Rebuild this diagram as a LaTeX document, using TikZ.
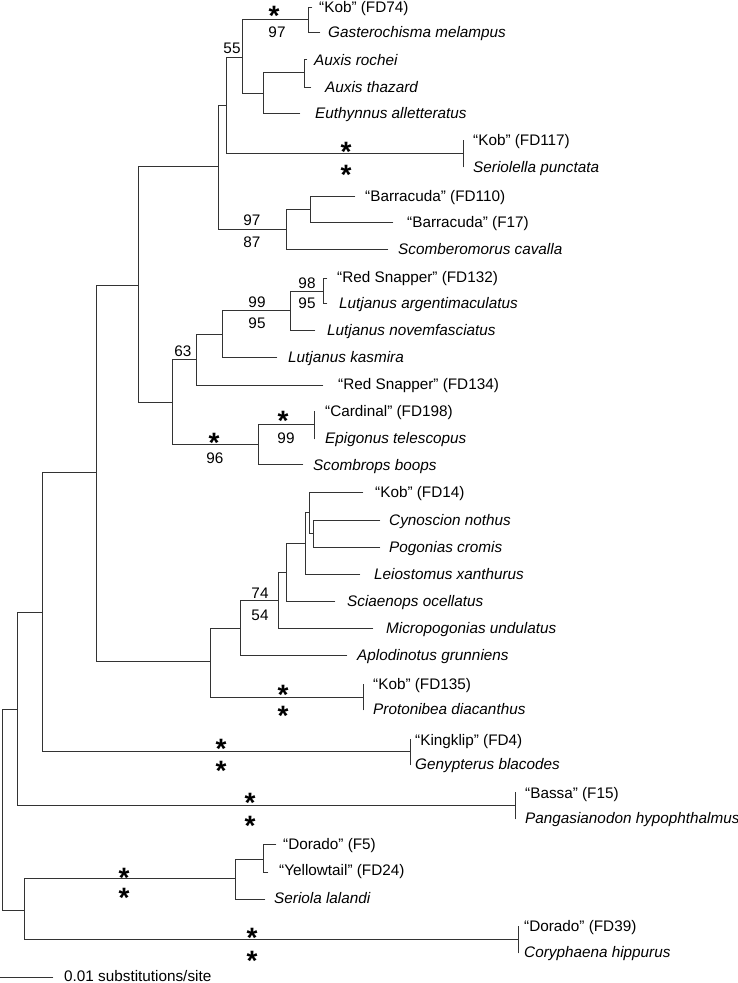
\documentclass[tikz,border=0pt]{standalone}
\usepackage{fontspec}
\setmainfont{Liberation Sans}
\newcommand\labfs{\fontsize{15.3}{18}\selectfont}
\newcommand\starfs{\fontsize{28}{28}\selectfont\bfseries}
\begin{document}
\begin{tikzpicture}[x=1pt,y=-1pt,
  br/.style={line width=0.85pt, draw=black!80, line cap=rect},
  lab/.style={anchor=west, inner sep=0pt, text height=11pt, text depth=0pt, font=\labfs},
  itlab/.style={lab, font=\labfs\itshape},
  sup/.style={anchor=center, inner sep=0pt, text height=11pt, text depth=0pt, font=\labfs},
  sig/.style={anchor=center, inner sep=0pt, font=\starfs}]
\useasboundingbox (0,0) rectangle (738,983);
\newcommand\sigstar{\smash{\raisebox{-0.57em}{*}}}
% ---------- internal nodes ----------
\coordinate (nR) at (2,809);
\coordinate (nA) at (17,709);
\coordinate (nB) at (42,612);
\coordinate (nC) at (96,472);
\coordinate (nD) at (138,285);
\coordinate (nE) at (218,166);
\coordinate (nF) at (226,105);
\coordinate (nG) at (242,57);
\coordinate (nH) at (308,19);
\coordinate (nI) at (263,93);
\coordinate (nJ) at (304,72);
\coordinate (nK) at (286,229);
\coordinate (nL) at (310,209);
\coordinate (nM) at (172,402);
\coordinate (n63) at (196,359);
\coordinate (nN) at (222,334);
\coordinate (nQ) at (290,310);
\coordinate (nP) at (323,291);
\coordinate (nO) at (258,444);
\coordinate (nS) at (210,661);
\coordinate (nT) at (240,628);
\coordinate (nU) at (278,600);
\coordinate (nV) at (286,572);
\coordinate (nZ) at (305,543);
\coordinate (nX) at (309,512);
\coordinate (nY) at (313,533);
\coordinate (n24) at (24,910);
\coordinate (nSC) at (235,878);
\coordinate (n263) at (263,859);
% ---------- tips ----------
\coordinate (tKob74) at (312,7);
\coordinate (tGast) at (320,32);
\coordinate (tRoch) at (307,59);
\coordinate (tThaz) at (311,87);
\coordinate (tEuth) at (300,113);
\coordinate (t117) at (463,153);
\coordinate (t117a) at (463,140);
\coordinate (t117b) at (463,167);
\coordinate (tB110) at (355,196);
\coordinate (tB17) at (393,222);
\coordinate (tScom) at (388,249);
\coordinate (tRS132) at (327,278);
\coordinate (tArg) at (327,303);
\coordinate (tNov) at (315,330);
\coordinate (tKas) at (277,357);
\coordinate (tRS134) at (323,385);
\coordinate (tCard) at (314,424);
\coordinate (tCarda) at (314,411);
\coordinate (tCardb) at (314,439);
\coordinate (tScombr) at (303,464);
\coordinate (tKob14) at (363,492);
\coordinate (tCyno) at (380,520);
\coordinate (tPogo) at (380,547);
\coordinate (tLeio) at (360,574);
\coordinate (tSciae) at (335,601);
\coordinate (tMicro) at (373,628);
\coordinate (tAplo) at (347,655);
\coordinate (t135) at (363,697);
\coordinate (t135a) at (363,684);
\coordinate (t135b) at (363,710);
\coordinate (tKing) at (410,751);
\coordinate (tKinga) at (410,739);
\coordinate (tKingb) at (410,765);
\coordinate (tBassa) at (515,805);
\coordinate (tBassaa) at (515,792);
\coordinate (tBassab) at (515,819);
\coordinate (tDorF5) at (276,844);
\coordinate (tYell) at (268,872);
\coordinate (tSer) at (265,899);
\coordinate (t39) at (518,939);
\coordinate (t39a) at (518,926);
\coordinate (t39b) at (518,953);
% ---------- branches ----------
\draw[br] (nR) |- (nA);   \draw[br] (nR) |- (n24);
\draw[br] (nA) |- (nB);   \draw[br] (nA) |- (tBassa);
\draw[br] (nB) |- (nC);   \draw[br] (nB) |- (tKing);
\draw[br] (nC) |- (nD);   \draw[br] (nC) |- (nS);
\draw[br] (nD) |- (nE);   \draw[br] (nD) |- (nM);
\draw[br] (nE) |- (nF);   \draw[br] (nE) |- (nK);
\draw[br] (nF) |- (nG);   \draw[br] (nF) |- (t117);
\draw[br] (nG) |- (nH);   \draw[br] (nG) |- (nI);
\draw[br] (nH) |- (tKob74); \draw[br] (nH) |- (tGast);
\draw[br] (nI) |- (nJ);   \draw[br] (nI) |- (tEuth);
\draw[br] (nJ) |- (tRoch); \draw[br] (nJ) |- (tThaz);
\draw[br] (nK) |- (nL);   \draw[br] (nK) |- (tScom);
\draw[br] (nL) |- (tB110); \draw[br] (nL) |- (tB17);
\draw[br] (nM) |- (n63);  \draw[br] (nM) |- (nO);
\draw[br] (n63) |- (nN);  \draw[br] (n63) |- (tRS134);
\draw[br] (nN) |- (nQ);   \draw[br] (nN) |- (tKas);
\draw[br] (nQ) |- (nP);   \draw[br] (nQ) |- (tNov);
\draw[br] (nP) |- (tRS132); \draw[br] (nP) |- (tArg);
\draw[br] (nO) |- (tCard); \draw[br] (nO) |- (tScombr);
\draw[br] (nS) |- (nT);   \draw[br] (nS) |- (t135);
\draw[br] (nT) |- (nU);   \draw[br] (nT) |- (tAplo);
\draw[br] (nU) |- (nV);   \draw[br] (nU) |- (tMicro);
\draw[br] (nV) |- (nZ);   \draw[br] (nV) |- (tSciae);
\draw[br] (nZ) |- (nX);   \draw[br] (nZ) |- (tLeio);
\draw[br] (nX) |- (tKob14); \draw[br] (nX) |- (nY);
\draw[br] (nY) |- (tCyno); \draw[br] (nY) |- (tPogo);
\draw[br] (n24) |- (nSC); \draw[br] (n24) |- (t39);
\draw[br] (nSC) |- (n263); \draw[br] (nSC) |- (tSer);
\draw[br] (n263) |- (tDorF5); \draw[br] (n263) |- (tYell);
% tip bars of identical pairs
\draw[br] (t117a) -- (t117b);
\draw[br] (tCarda) -- (tCardb);
\draw[br] (t135a) -- (t135b);
\draw[br] (tKinga) -- (tKingb);
\draw[br] (tBassaa) -- (tBassab);
\draw[br] (t39a) -- (t39b);
% ---------- leaf labels ----------
\node[lab]   (lKob74) at (319,7)   {“Kob” (FD74)};
\node[itlab] (lGast)  at (328,32)  {Gasterochisma melampus};
\node[itlab] (lRoch)  at (314,60)  {Auxis rochei};
\node[itlab] (lThaz)  at (325,87)  {Auxis thazard};
\node[itlab] (lEuth)  at (315,113) {Euthynnus alletteratus};
\node[lab]   (l117)   at (473,140) {“Kob” (FD117)};
\node[itlab] (lSeri)  at (473,167) {Seriolella punctata};
\node[lab]   (lB110)  at (365,196) {“Barracuda” (FD110)};
\node[lab]   (lB17)   at (407,222) {“Barracuda” (F17)};
\node[itlab] (lScom)  at (398,249) {Scomberomorus cavalla};
\node[lab]   (lRS132) at (337,277) {“Red Snapper” (FD132)};
\node[itlab] (lArg)   at (339,303) {Lutjanus argentimaculatus};
\node[itlab] (lNov)   at (327,330) {Lutjanus novemfasciatus};
\node[itlab] (lKas)   at (288,357) {Lutjanus kasmira};
\node[lab]   (lRS134) at (338,384) {“Red Snapper” (FD134)};
\node[lab]   (lCard)  at (325,411) {“Cardinal” (FD198)};
\node[itlab] (lEpi)   at (325,438) {Epigonus telescopus};
\node[itlab] (lScombr) at (313,465) {Scombrops boops};
\node[lab]   (lKob14) at (375,492) {“Kob” (FD14)};
\node[itlab] (lCyno)  at (389,520) {Cynoscion nothus};
\node[itlab] (lPogo)  at (389,547) {Pogonias cromis};
\node[itlab] (lLeio)  at (374,574) {Leiostomus xanthurus};
\node[itlab] (lSciae) at (347,601) {Sciaenops ocellatus};
\node[itlab] (lMicro) at (386,628) {Micropogonias undulatus};
\node[itlab] (lAplo)  at (357,655) {Aplodinotus grunniens};
\node[lab]   (l135)   at (373,684) {“Kob” (FD135)};
\node[itlab] (lProto) at (373,709) {Protonibea diacanthus};
\node[lab]   (lKing)  at (415,740) {“Kingklip” (FD4)};
\node[itlab] (lGeny)  at (415,764) {Genypterus blacodes};
\node[lab]   (lBassa) at (525,793) {“Bassa” (F15)};
\node[itlab] (lPanga) at (525,818) {Pangasianodon hypophthalmus};
\node[lab]   (lDorF5) at (283,844) {“Dorado” (F5)};
\node[lab]   (lYell)  at (279,870) {“Yellowtail” (FD24)};
\node[itlab] (lSer)   at (274,898) {Seriola lalandi};
\node[lab]   (l39)    at (524,926) {“Dorado” (FD39)};
\node[itlab] (lCory)  at (524,952) {Coryphaena hippurus};
% ---------- support values ----------
\node[sig] (sH1) at (274,10) {\sigstar};
\node[sup] (sH2) at (277,32) {97};
\node[sup] (s55) at (232,48) {55};
\node[sig] (s117a) at (346,146) {\sigstar};
\node[sig] (s117b) at (346,169) {\sigstar};
\node[sup] (sK1) at (252,220) {97};
\node[sup] (sK2) at (252,242) {87};
\node[sup] (sP1) at (307,283) {98};
\node[sup] (sP2) at (307,303) {95};
\node[sup] (sQ1) at (257,302) {99};
\node[sup] (sQ2) at (257,323) {95};
\node[sup] (s63) at (183,351) {63};
\node[sig] (sO1) at (283,415) {\sigstar};
\node[sup] (sO2) at (286,438) {99};
\node[sig] (sM1) at (214,437) {\sigstar};
\node[sup] (sM2) at (215,458) {96};
\node[sup] (sU1) at (260,593) {74};
\node[sup] (sU2) at (260,615) {54};
\node[sig] (s135a) at (283,689) {\sigstar};
\node[sig] (s135b) at (283,710) {\sigstar};
\node[sig] (sKa) at (221,743) {\sigstar};
\node[sig] (sKb) at (221,765) {\sigstar};
\node[sig] (sBa) at (250,797) {\sigstar};
\node[sig] (sBb) at (250,820) {\sigstar};
\node[sig] (sSa) at (124,872) {\sigstar};
\node[sig] (sSb) at (124,892) {\sigstar};
\node[sig] (s39a) at (252,932) {\sigstar};
\node[sig] (s39b) at (252,955) {\sigstar};
% ---------- scale bar ----------
\coordinate (sb1) at (0,977);
\coordinate (sb2) at (53,977);
\draw[br] (sb1) -- (sb2);
\node[lab] (sbl) at (64,976) {0.01 substitutions/site};
\end{tikzpicture}
\end{document}
